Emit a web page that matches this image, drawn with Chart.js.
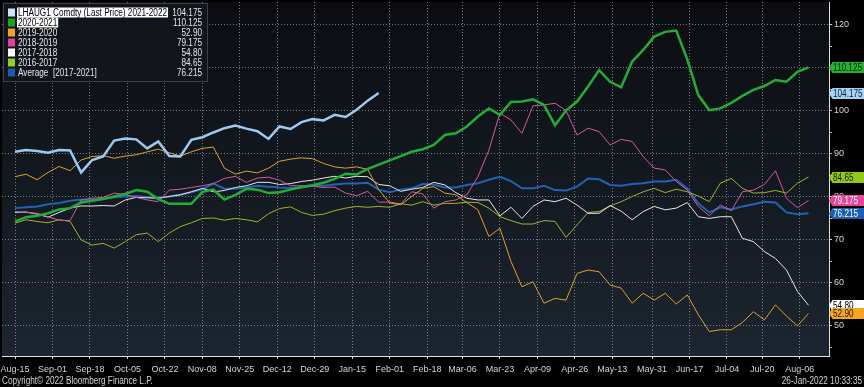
<!DOCTYPE html>
<html>
<head>
<meta charset="utf-8">
<script src="https://cdn.jsdelivr.net/npm/chart.js@4.4.1/dist/chart.umd.min.js"></script>
<style>
  html, body { margin: 0; padding: 0; background: #000; }
  #wrap { width: 864px; height: 387px; }
</style>
</head>
<body>
<div id="wrap"><canvas id="hogChart" width="864" height="387"></canvas></div>
<script>
// days since Aug-15, one reading every 5 days
const days = [0,5,10,15,20,25,30,35,40,45,50,55,60,65,70,75,80,85,90,95,100,105,110,115,120,125,130,135,140,145,150,155,160,165,170,175,180,185,190,195,200,205,210,215,220,225,230,235,240,245,250,255,260,265,270,275,280,285,290,295,300,305,310,315,320,325,330,335,340,345,350,355,360];

const tickDays = [0,17,34,51,68,85,102,119,136,153,170,187,203,220,237,254,271,289,306,323,339,356];
const tickLabels = ['Aug-15','Sep-01','Sep-18','Oct-05','Oct-22','Nov-08','Nov-25','Dec-12','Dec-29','Jan-15','Feb-01','Feb-18','Mar-06','Mar-23','Apr-09','Apr-26','May-13','May-31','Jun-17','Jul-04','Jul-20','Aug-06'];
const yTicks = [45,50,55,60,65,70,75,80,85,90,95,100,105,110,115,120];

const lh2122 = [90.5,90.9,90.7,90.3,90.9,90.8,85.7,88.6,89.4,93.1,93.6,93.4,91.3,92.9,89.5,89.4,93.3,93.9,95.0,96.0,96.6,95.9,95.3,93.5,96.4,95.8,97.4,98.1,97.8,99.1,98.6,100.3,102.4,104.175];
const s2021 = [74.3,75.3,75.6,76.2,77.1,77.4,78.7,79.1,79.5,80.1,80.7,81.6,81.2,79.5,78.4,78.4,78.4,81.2,81.7,79.4,80.5,81.9,81.7,80.9,81.1,81.7,82.3,82.7,83.3,84.2,85.4,85.2,86.5,87.5,88.5,89.5,90.5,91.1,92.1,94.4,94.8,96.4,98.7,100.6,99.1,102.1,102.2,102.7,101.4,96.7,100.1,102.2,105.7,109.5,106.8,105.5,111.5,114.2,117.3,118.4,118.7,112.0,103.7,100.2,100.6,101.9,103.5,104.9,105.8,107.2,106.8,109.1,110.125];
const s1920 = [84.7,85.3,84.0,85.7,87.1,86.1,88.6,89.4,89.6,89.0,89.5,89.8,90.5,91.1,90.3,89.5,90.5,91.3,91.6,86.7,85.3,86.0,85.6,86.7,88.3,88.8,89.1,88.9,87.8,87.0,86.7,87.0,86.4,81.7,78.6,78.2,80.1,82.0,82.4,80.9,80.5,78.7,77.0,70.8,72.7,65.0,59.1,60.3,55.3,56.4,56.0,62.2,63.0,62.6,59.5,58.8,55.3,57.6,56.0,57.6,55.1,57.2,52.6,48.7,49.1,49.1,50.8,53.3,51.4,54.9,52.3,50.0,52.9];
const s1819 = [76.6,76.4,76.2,75.4,74.6,74.5,79.3,79.7,79.9,80.9,80.5,79.9,79.3,78.9,81.6,81.8,82.2,82.6,83.1,84.3,84.8,83.4,84.4,84.6,83.9,82.6,82.6,82.5,82.2,82.3,80.9,80.3,81.3,78.8,78.8,78.4,81.2,80.7,77.4,78.9,79.3,80.5,84.7,90.9,99.5,97.9,94.8,101.2,101.4,101.8,100.1,94.4,96.0,95.2,92.1,93.4,92.9,89.4,86.7,86.3,83.6,81.6,77.8,75.6,78.1,76.8,81.2,81.6,82.9,86.1,79.7,77.5,79.175];
const s1718 = [76.4,76.5,76.0,75.3,76.4,77.4,77.9,77.9,78.0,77.9,79.3,79.9,79.8,79.7,80.1,80.5,81.2,82.0,81.2,81.5,82.2,82.6,83.4,83.4,82.9,83.1,83.6,83.9,84.4,84.8,84.4,84.8,84.7,82.9,82.6,81.3,81.8,82.2,83.4,82.8,81.0,79.7,79.3,79.3,75.6,77.6,75.0,77.8,79.3,78.9,79.7,78.1,76.2,76.2,78.0,76.7,74.7,76.6,77.8,77.0,77.4,78.7,75.4,75.0,75.4,75.4,70.4,69.6,67.3,65.7,63.0,58.0,54.8];
const s1617 = [73.9,74.7,74.3,74.0,74.7,74.3,70.0,68.8,69.2,68.1,69.6,71.2,71.6,69.6,71.6,73.1,74.0,75.0,75.1,74.6,75.0,74.7,74.2,76.1,77.3,77.7,76.4,75.7,76.0,76.8,77.4,77.8,77.6,77.8,77.6,78.4,78.1,78.9,78.1,78.5,78.5,78.8,78.7,77.4,75.4,74.5,73.7,73.7,74.5,74.3,70.6,73.5,76.4,76.6,77.9,78.9,80.1,81.2,82.0,81.0,81.8,81.2,80.2,78.9,83.2,84.3,82.0,80.9,81.0,81.5,80.9,83.2,84.65];
const avg1721 = [77.4,77.6,77.8,78.3,78.6,79.1,79.4,79.3,79.6,79.9,80.1,80.2,80.0,79.8,80.1,80.5,81.1,81.8,83.1,81.9,81.9,82.2,82.6,82.4,82.2,82.1,82.2,82.6,82.6,82.9,83.1,83.1,83.3,81.7,81.1,81.7,82.0,83.0,82.9,82.2,82.2,82.8,83.2,84.0,84.7,83.7,82.0,82.0,82.6,81.6,81.5,82.4,84.3,84.1,82.8,82.6,83.0,83.2,83.6,83.6,84.0,82.0,78.5,76.4,77.6,77.1,77.8,78.3,78.9,78.7,76.4,76.0,76.215];

const seriesNames = ['LHAUG1 Comdty (Last Price) 2021-2022','2020-2021','2019-2020','2018-2019','2017-2018','2016-2017','Average  [2017-2021]'];
const lastLabels = ['104.175','110.125','52.90','79.175','54.80','84.65','76.215'];

const FONT = "'Liberation Sans', Arial, sans-serif";
const SQUEEZE = 0.82; // narrow look of the terminal font
Chart.defaults.font.family = FONT;
Chart.defaults.font.size = 9;
Chart.defaults.color = '#d4d4d4';

const allSeries = [lh2122, s2021, s1920, s1819, s1718, s1617, avg1721];
const lineColors = ['#9ccaf2', '#22ad38', '#dea22c', '#d45a9c', '#e8e8e8', '#9db52a', '#2063b4'];
const lineWidths = [2.5, 2.5, 1, 1, 1, 1, 2];
const boxColors = ['#cfe3f6', '#17a51c', '#f3a51b', '#e23ea0', '#ffffff', '#8fd11c', '#1e5cb0'];
const tagColors = ['#a9d0f5', '#21b02f', '#f5a81c', '#e8449a', '#ffffff', '#92c91c', '#1c5fb5'];
const tagText = ['#0d2440', '#062006', '#1a1000', '#ffffff', '#000000', '#102000', '#ffffff'];

const datasets = allSeries.map((vals, i) => ({
    label: seriesNames[i],
    data: vals.map((v, j) => ({ x: days[j], y: v })),
    borderColor: lineColors[i],
    borderWidth: lineWidths[i],
    pointRadius: 0,
    tension: 0,
    fill: false
}));

const gridColor = 'rgba(185,190,196,0.6)';

function narrowText(ctx, str, x, y, align) {
    ctx.save();
    ctx.translate(x, y);
    ctx.scale(SQUEEZE, 1);
    ctx.textAlign = align;
    ctx.fillText(str, 0, 0);
    ctx.restore();
}

const backdrop = {
    id: 'backdrop',
    beforeDraw(chart) {
        const { ctx, chartArea: a } = chart;
        ctx.save();
        ctx.fillStyle = '#000';
        ctx.fillRect(0, 0, chart.width, chart.height);
        const g = ctx.createLinearGradient(0, a.top, 0, a.bottom);
        g.addColorStop(0, '#0b0d11');
        g.addColorStop(1, '#1c2530');
        ctx.fillStyle = g;
        ctx.fillRect(a.left, a.top, a.right - a.left, a.bottom - a.top);
        ctx.restore();
    }
};

const overlay = {
    id: 'overlay',
    afterDraw(chart) {
        const { ctx, chartArea: a } = chart;
        const ys = chart.scales.y;
        ctx.save();
        ctx.font = '10px ' + FONT;
        ctx.textBaseline = 'middle';

        // legend box
        ctx.fillStyle = 'rgba(18,22,28,0.92)';
        ctx.fillRect(3, 3, 205, 79);
        ctx.strokeStyle = '#3c4148';
        ctx.lineWidth = 1;
        ctx.strokeRect(3.5, 3.5, 204, 78);
        seriesNames.forEach((name, i) => {
            const yc = 12.5 + i * 10;
            ctx.fillStyle = boxColors[i];
            ctx.fillRect(8, yc - 4, 7, 8);
            let txt = '#e6e6e6';
            if (i < 2) {
                ctx.fillStyle = '#ffffff';
                ctx.fillRect(17, yc - 5, ctx.measureText(name).width * SQUEEZE + 2, 10);
                txt = '#000000';
            }
            ctx.fillStyle = txt;
            narrowText(ctx, name, 18, yc + 0.5, 'left');
            ctx.fillStyle = '#e6e6e6';
            narrowText(ctx, lastLabels[i], 202, yc + 0.5, 'right');
        });

        // last value tags, highest first so lower ones sit on top
        const order = allSeries.map((s, i) => i).sort((p, q) => allSeries[q].at(-1) - allSeries[p].at(-1));
        order.forEach(i => {
            const y = Math.round(ys.getPixelForValue(allSeries[i].at(-1))) + 0.5;
            ctx.fillStyle = tagColors[i];
            ctx.beginPath();
            ctx.moveTo(a.right, y);
            ctx.lineTo(a.right + 3.5, y - 5.5);
            ctx.lineTo(chart.width, y - 5.5);
            ctx.lineTo(chart.width, y + 5.5);
            ctx.lineTo(a.right + 3.5, y + 5.5);
            ctx.closePath();
            ctx.fill();
            ctx.fillStyle = tagText[i];
            narrowText(ctx, lastLabels[i], a.right + 4, y + 0.5, 'left');
        });

        // footer
        ctx.fillStyle = '#d0d0d0';
        narrowText(ctx, 'Copyright\u00a9 2022 Bloomberg Finance L.P.', 2, 381, 'left');
        narrowText(ctx, '26-Jan-2022 10:33:35', 862, 381, 'right');
        ctx.restore();
    }
};

new Chart(document.getElementById('hogChart'), {
    type: 'line',
    data: { datasets },
    options: {
        responsive: false,
        animation: false,
        layout: { padding: { left: 2, top: 2, right: 0, bottom: 11 } },
        plugins: { legend: { display: false }, tooltip: { enabled: false } },
        scales: {
            x: {
                type: 'linear',
                min: -5.9,
                max: 369.3,
                afterBuildTicks: s => { s.ticks = tickDays.map(v => ({ value: v })); },
                afterFit: s => { s.height = 20; s.paddingLeft = 0; s.paddingRight = 0; },
                ticks: {
                    autoSkip: false,
                    maxRotation: 0,
                    padding: 5,
                    color: '#d4d4d4',
                    callback: v => {
                        const k = tickDays.indexOf(v);
                        return k >= 0 ? tickLabels[k] : '';
                    }
                },
                grid: { color: gridColor, tickLength: 3, tickColor: '#cfcfcf' },
                border: { color: '#e2e2e2', width: 1, dash: [1, 2] }
            },
            y: {
                position: 'right',
                min: 43.0,
                max: 125.35,
                afterBuildTicks: s => { s.ticks = yTicks.map(v => ({ value: v })); },
                afterFit: s => { s.width = 35; s.paddingTop = 0; s.paddingBottom = 0; },
                ticks: {
                    padding: 2,
                    color: '#d4d4d4',
                    callback: v => (v % 10 === 0 ? String(v) : '')
                },
                grid: {
                    color: c => (c.tick && c.tick.value % 10 === 0 ? gridColor : 'rgba(0,0,0,0)'),
                    tickLength: 3,
                    tickColor: '#cfcfcf'
                },
                border: { color: '#e2e2e2', width: 1, dash: [1, 2] }
            }
        }
    },
    plugins: [backdrop, overlay]
});
</script>
</body>
</html>
